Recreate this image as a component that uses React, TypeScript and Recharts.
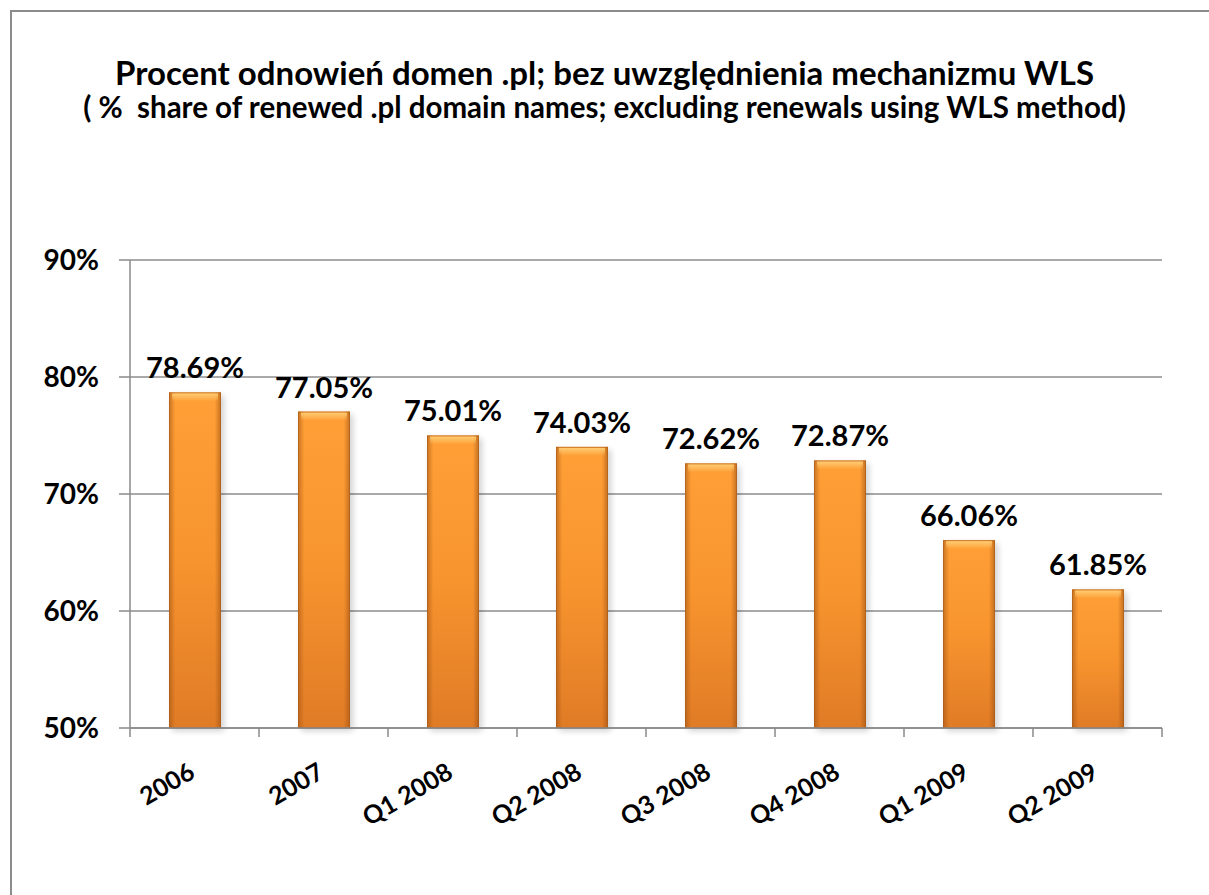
import React from 'react';
import { BarChart, Bar, XAxis, YAxis, CartesianGrid, LabelList } from 'recharts';

const categories = ['2006', '2007', 'Q1 2008', 'Q2 2008', 'Q3 2008', 'Q4 2008', 'Q1 2009', 'Q2 2009'];
const renewalShare = [78.69, 77.05, 75.01, 74.03, 72.62, 72.87, 66.06, 61.85];
const yTicks = [50, 60, 70, 80, 90];

const data = categories.map((name, i) => ({ name, value: renewalShare[i] }));

const W = 1209;
const H = 895;
const X_AXIS_H = 30;
const M = { top: 260, right: 47, bottom: 167 - X_AXIS_H, left: 0 };
const Y_AXIS_W = 130;
const PLOT_W = W - M.right - Y_AXIS_W;
const FONT = 'Lato, "Open Sans", sans-serif';

const BevelBar = (props: any) => {
  const { x, y, width, height } = props;
  if (!height || height <= 0) return null;
  return (
    <g>
      <rect x={x + 3} y={y + 3} width={width} height={height} fill="#000" opacity={0.18} filter="url(#barShadow)" />
      <rect x={x} y={y} width={width} height={height} fill="url(#barVert)" />
      <rect x={x} y={y} width={width} height={height} fill="url(#barHoriz)" />
      <rect x={x + 3} y={y + 1} width={width - 6} height={Math.min(8, height)} fill="url(#barTop)" />
      <rect x={x + 0.5} y={y + 0.5} width={width - 1} height={height - 1} fill="none" stroke="#a85a18" strokeOpacity={0.55} />
    </g>
  );
};

const XTick = (props: any) => {
  const { x, y, payload, index } = props;
  const band = PLOT_W / categories.length;
  const ax = x + 2;
  const ay = y + 49;
  return (
    <g>
      <line x1={x - band / 2} x2={x - band / 2} y1={y} y2={y + 9} stroke="#8a8a8a" strokeWidth={1.5} />
      {index === categories.length - 1 && (
        <line x1={x + band / 2} x2={x + band / 2} y1={y} y2={y + 9} stroke="#8a8a8a" strokeWidth={1.5} />
      )}
      <text
        x={ax}
        y={ay}
        transform={`rotate(-30, ${ax}, ${ay})`}
        textAnchor="end"
        fontFamily={FONT}
        fontWeight="bold"
        fontSize={25}
        fill="#000"
      >
        {payload.value}
      </text>
    </g>
  );
};

export default function App() {
  return (
    <div style={{ position: 'absolute', left: 0, top: 0, width: W, height: H, background: '#fff', overflow: 'hidden' }}>
      <div
        style={{
          position: 'absolute',
          left: 10,
          top: 10,
          width: W + 20,
          height: H + 20,
          border: '2px solid #8c8c8c',
        }}
      />
      <div
        style={{
          position: 'absolute',
          left: 0,
          top: 53,
          width: W,
          textAlign: 'center',
          fontFamily: FONT,
          fontWeight: 'bold',
          fontSize: 33,
          lineHeight: '38px',
          color: '#000',
        }}
      >
        Procent odnowień domen .pl; bez uwzględnienia mechanizmu WLS
      </div>
      <div
        style={{
          position: 'absolute',
          left: 0,
          top: 90,
          width: W,
          textAlign: 'center',
          fontFamily: FONT,
          fontWeight: 'bold',
          fontSize: 29.5,
          lineHeight: '34px',
          color: '#000',
          whiteSpace: 'pre',
        }}
      >
        {'( %  share of renewed .pl domain names; excluding renewals using WLS method)'}
      </div>
      <div style={{ position: 'absolute', left: 0, top: 0 }}>
        <BarChart width={W} height={H} data={data} margin={M}>
          <defs>
            <linearGradient id="barVert" x1="0" y1="0" x2="0" y2="1">
              <stop offset="0%" stopColor="#ff9f36" />
              <stop offset="50%" stopColor="#f7942e" />
              <stop offset="100%" stopColor="#e07b26" />
            </linearGradient>
            <linearGradient id="barHoriz" x1="0" y1="0" x2="1" y2="0">
              <stop offset="0%" stopColor="#9c5012" stopOpacity={0.55} />
              <stop offset="12%" stopColor="#9c5012" stopOpacity={0} />
              <stop offset="88%" stopColor="#9c5012" stopOpacity={0} />
              <stop offset="100%" stopColor="#9c5012" stopOpacity={0.6} />
            </linearGradient>
            <linearGradient id="barTop" x1="0" y1="0" x2="0" y2="1">
              <stop offset="0%" stopColor="#ffd27a" stopOpacity={0.9} />
              <stop offset="100%" stopColor="#ffd27a" stopOpacity={0} />
            </linearGradient>
            <filter id="barShadow" x="-20%" y="-20%" width="140%" height="140%">
              <feGaussianBlur stdDeviation="3" />
            </filter>
          </defs>
          <CartesianGrid vertical={false} stroke="#8c8c8c" strokeWidth={1.3} />
          <XAxis
            dataKey="name"
            height={X_AXIS_H}
            tickSize={0}
            tickMargin={0}
            tick={<XTick />}
            interval={0}
            axisLine={{ stroke: '#8a8a8a', strokeWidth: 1.5 }}
          />
          <YAxis
            width={Y_AXIS_W}
            domain={[50, 90]}
            ticks={yTicks}
            tickFormatter={(v: number) => `${v}%`}
            tickSize={11}
            tickMargin={20}
            tickLine={{ stroke: '#8a8a8a', strokeWidth: 1.5 }}
            axisLine={{ stroke: '#8a8a8a', strokeWidth: 1.5 }}
            tick={{ fill: '#000', fontFamily: FONT, fontWeight: 'bold', fontSize: 28 }}
          />
          <Bar dataKey="value" barSize={52} shape={<BevelBar />} isAnimationActive={false}>
            <LabelList
              dataKey="value"
              position="top"
              offset={14}
              formatter={(v: any) => `${Number(v).toFixed(2)}%`}
              style={{ fill: '#000', fontFamily: FONT, fontWeight: 'bold', fontSize: 29 }}
            />
          </Bar>
        </BarChart>
      </div>
    </div>
  );
}
